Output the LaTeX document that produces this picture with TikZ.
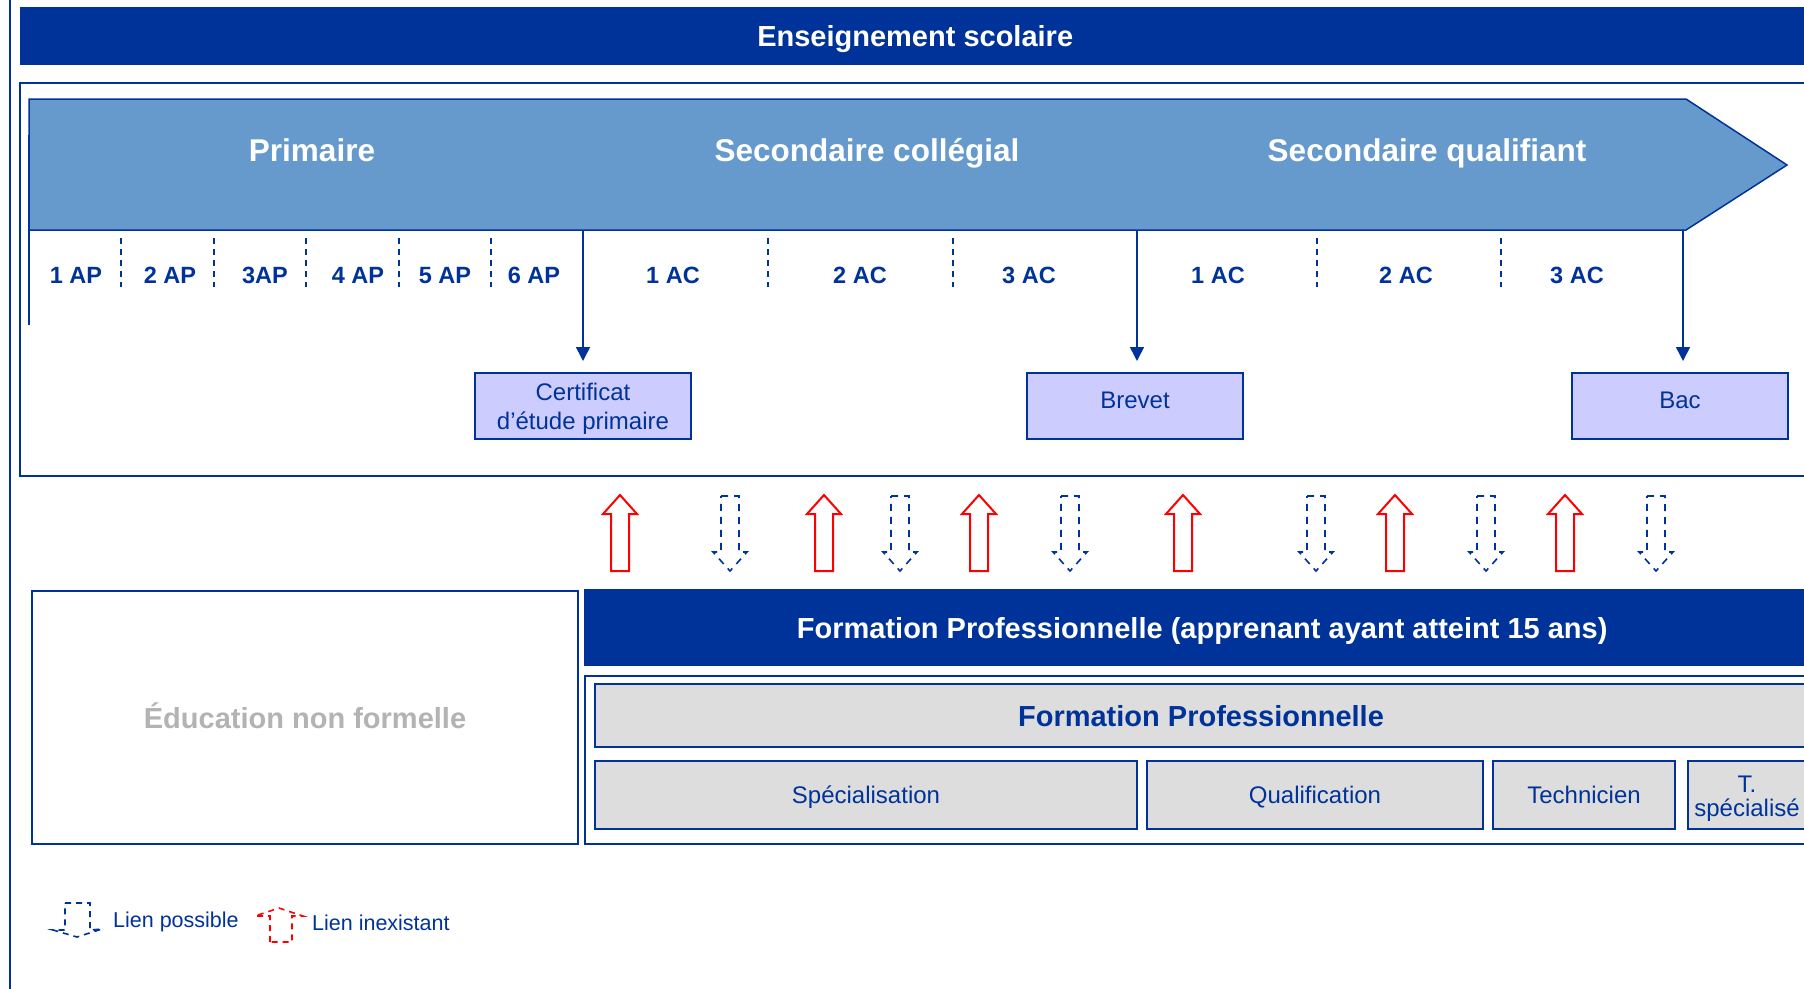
\documentclass[tikz,border=0pt]{standalone}
\usepackage{fontspec}
\setmainfont{Liberation Sans}
\usetikzlibrary{arrows.meta}
\definecolor{dblue}{HTML}{003399}
\definecolor{mblue}{HTML}{6699CC}
\definecolor{lav}{HTML}{CCCCFF}
\definecolor{lgray}{HTML}{DDDDDD}
\definecolor{tgray}{HTML}{B3B3B3}
\begin{document}
\begin{tikzpicture}[x=1pt,y=-1pt,
  bigbold/.style={font=\fontsize{29}{34}\selectfont\bfseries, text height=21pt, text depth=0pt},
  headbold/.style={font=\fontsize{31.5}{36}\selectfont\bfseries, text=white, text height=23pt, text depth=0pt},
  year/.style={font=\fontsize{23.5}{28}\selectfont\bfseries, text=dblue, text height=17pt, text depth=0pt},
  reg/.style={font=\fontsize{24}{29}\selectfont, text=dblue, text height=17pt, text depth=0pt},
  regml/.style={text=dblue},
  certbox/.style={draw=dblue, line width=2pt, fill=lav, minimum width=216pt, minimum height=66pt, inner sep=0pt},
  graybox/.style={draw=dblue, line width=2pt, fill=lgray, inner sep=0pt},
  conn/.style={dblue, line width=1.6pt, -{Triangle[length=14pt,width=14pt]}},
  sep/.style={dblue, line width=1.5pt, dash pattern=on 6pt off 5pt},
  frame/.style={dblue, line width=2pt},
  redup/.pic={\draw[red, line width=2pt, fill=white] (0,0) -- (17,19) -- (9,19) -- (9,76) -- (-9,76) -- (-9,19) -- (-17,19) -- cycle;},
  bluedown/.pic={\draw[dblue, line width=1.6pt, dash pattern=on 7pt off 6pt] (-9,0) -- (9,0) -- (9,56) -- (17,56) -- (0,75) -- (-17,56) -- (-9,56) -- cycle;}
]
\useasboundingbox (0,0) rectangle (1804,988);
\clip (0,0) rectangle (1804,988);
\fill[white] (0,0) rectangle (1804,988);

% left rule
\draw[frame] (10,-5) -- (10,995);

% title bar
\node (title) [fill=dblue, minimum width=1790pt, minimum height=58pt, anchor=north west, inner sep=0pt, bigbold, text=white] at (20,7) {Enseignement scolaire};

% school frame
\draw[frame] (1815,83) -- (20,83) -- (20,476) -- (1815,476);

% pentagon
\draw[dblue, line width=1.5pt, fill=mblue] (29,99) -- (1686,99) -- (1787,165) -- (1686,230) -- (29,230) -- cycle;
\draw[dblue, line width=1.5pt] (29,135) -- (29,325);
\node (prim) [headbold] at (312,150) {Primaire};
\node (coll) [headbold] at (867,150) {Secondaire collégial};
\node (qual) [headbold] at (1427,150) {Secondaire qualifiant};

% separators
\foreach \x in {121,214,306,399,491,768,953,1317,1501}
  \draw[sep] (\x,238) -- (\x,287);

% years
\foreach \x/\t [count=\i] in {76/1 AP,170/2 AP,265/3AP,358/4 AP,445/5 AP,534/6 AP,673/1 AC,860/2 AC,1029/3 AC,1218/1 AC,1406/2 AC,1577/3 AC}
  \node (yr\i) [year] at (\x,275) {\t};

% diplomas
\node (cert) [certbox, regml] at (583,406) {\fontsize{24}{29}\selectfont\raisebox{-3.5pt}[35pt][23pt]{\begin{tabular}{@{}c@{}}Certificat\\d’étude primaire\end{tabular}}};
\node (brevet) [certbox, reg] at (1135,406) {\raisebox{6pt}{Brevet}};
\node (bac) [certbox, reg] at (1680,406) {\raisebox{6pt}{Bac}};

\coordinate (s1) at (583,230);
\coordinate (s2) at (1137,230);
\coordinate (s3) at (1683,230);
\draw[conn, shorten >=11pt] (s1) -- (s1 |- cert.north);
\draw[conn, shorten >=11pt] (s2) -- (s2 |- brevet.north);
\draw[conn, shorten >=11pt] (s3) -- (s3 |- bac.north);

% hollow arrows
\foreach \x in {620,824,979,1183,1395,1565}
  \pic at (\x,495) {redup};
\foreach \x in {730,900,1070,1316,1486,1656}
  \pic at (\x,496) {bluedown};

% non formal education
\node (nfe) [draw=dblue, line width=2pt, minimum width=546pt, minimum height=253pt, anchor=north west, inner sep=0pt, bigbold, text=tgray] at (31,590) {Éducation non formelle};

% FP bar
\node (fpbar) [fill=dblue, minimum width=1236pt, minimum height=77pt, anchor=north west, inner sep=0pt, bigbold, text=white] at (584,589) {Formation Professionnelle (apprenant ayant atteint 15 ans)};

% FP frame
\draw[frame] (1815,676) -- (585,676) -- (585,844) -- (1815,844);
\node (fphead) [graybox, minimum width=1212pt, minimum height=63pt, anchor=north west, bigbold, text=dblue] at (594,683) {Formation Professionnelle};
\node (spec) [graybox, reg, minimum width=542pt, minimum height=68pt, anchor=north west] at (594,760) {Spécialisation};
\node (qualif) [graybox, reg, minimum width=336pt, minimum height=68pt, anchor=north west] at (1146,760) {Qualification};
\node (tech) [graybox, reg, minimum width=182pt, minimum height=68pt, anchor=north west] at (1492,760) {Technicien};
\node (tspec) [graybox, regml, minimum width=118pt, minimum height=68pt, anchor=north west] at (1687,760) {\fontsize{24}{22}\selectfont\raisebox{-4.5pt}[28pt][16pt]{\begin{tabular}{@{}c@{}}T.\\spécialisé\end{tabular}}};

% legend
\draw[dblue, line width=1.6pt, dash pattern=on 6pt off 5pt] (65,903) -- (90,903) -- (90,930) -- (102,929) -- (77,937) -- (53,930) -- (65,930) -- cycle;
\node (lp) [anchor=west, font=\fontsize{21.5}{26}\selectfont, text=dblue, inner sep=0pt] at (113,922) {Lien possible};
\draw[red, line width=1.6pt, dash pattern=on 6pt off 5pt] (270,942) -- (270,916) -- (255,916) -- (279,908) -- (303,916) -- (292,916) -- (292,942) -- cycle;
\node (li) [anchor=west, font=\fontsize{21.5}{26}\selectfont, text=dblue, inner sep=0pt] at (312,923) {Lien inexistant};
\end{tikzpicture}
\end{document}
